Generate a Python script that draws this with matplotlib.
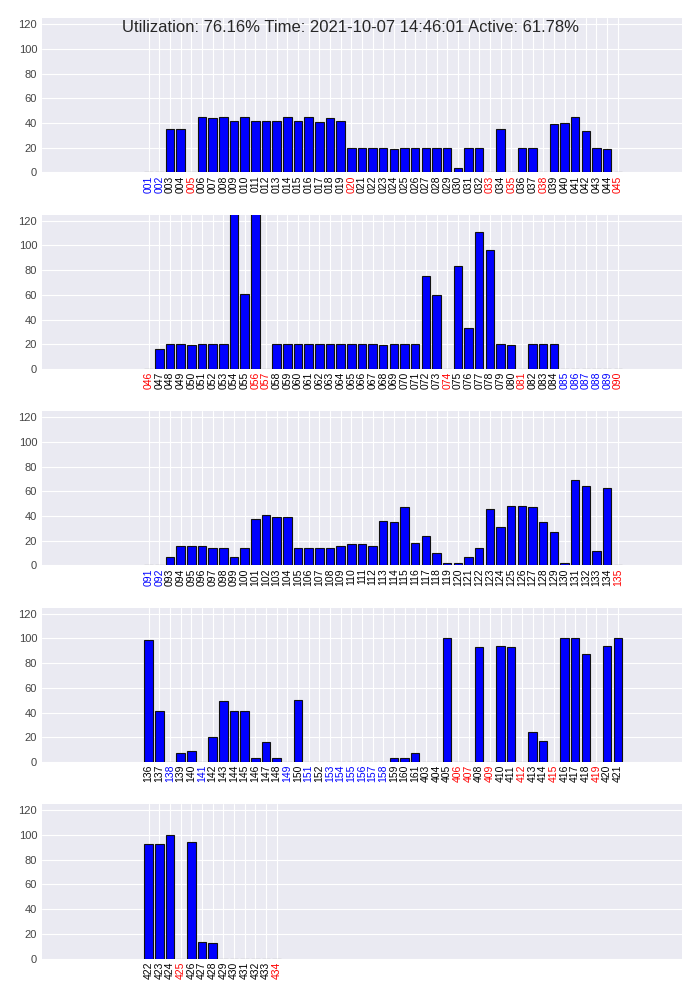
import matplotlib
matplotlib.use("Agg")
from matplotlib import pyplot as plt

titulo = "Utilization: 76.16% Time: 2021-10-07 14:46:01 Active: 61.78%"

# nomes dos nos por painel
nos1 = ["%03d" % i for i in range(1, 46)]
nos2 = ["%03d" % i for i in range(46, 91)]
nos3 = ["%03d" % i for i in range(91, 136)]
nos4 = ["%03d" % i for i in range(136, 162)] + ["%03d" % i for i in range(403, 422)]
nos5 = ["%03d" % i for i in range(422, 435)]

# utilizacao (%) de cada no
util1 = [0, 0, 35, 35, 0, 45, 44, 45, 41.5, 45, 41.5, 41.5, 41.5, 45, 41.5, 45, 40.5, 44, 41.5,
         20, 20, 20, 20, 19, 20, 20, 20, 20, 20, 3.5, 20, 20, 0, 35, 0, 20, 20, 0,
         39, 40, 45, 33.5, 20, 19, 0]
util2 = [0, 16.5, 20, 20, 19.5, 20, 20, 20, 140, 60.5, 140, 0, 20, 20, 20, 20, 20, 20, 20, 20,
         20, 20, 19.5, 20, 20, 20, 75.5, 59.5, 0, 83, 33, 110.5, 96.5, 20, 19.5, 0, 20, 20, 20,
         0, 0, 0, 0, 0, 0]
util3 = [0, 0, 6.5, 15.5, 15.5, 15.5, 14, 14, 6.5, 14, 38, 40.5, 39, 39, 14, 14, 14, 14, 15.5,
         17, 17, 15.5, 36, 35.5, 47, 18.5, 23.5, 10.5, 2, 2, 6.5, 14, 45.5, 31.5, 48, 48.5, 47,
         35.5, 27.5, 2, 69.5, 64, 11.5, 62.5, 0]
util4 = [99, 41.5, 0, 7, 8.5, 0, 20.5, 49, 41, 41.5, 3, 16.5, 3, 0, 50, 0, 0, 0, 0, 0, 0, 0, 0,
         3, 3, 7, 0, 0, 100, 0, 0, 93, 0, 93.5, 93, 0, 24, 17, 0, 100, 100, 87, 0, 93.5, 100]
util5 = [93, 92.5, 100, 0, 94, 13.5, 12.5, 0, 0, 0, 0, 0, 0]

# nos marcados a azul e a vermelho
nos_azuis = ["001", "002", "085", "086", "087", "088", "089", "091", "092", "138", "141", "149",
             "151", "153", "154", "155", "156", "157", "158"]
nos_vermelhos = ["005", "020", "033", "035", "038", "045", "046", "056", "057", "074", "081",
                 "090", "135", "406", "407", "409", "412", "415", "419", "425", "434"]

plt.style.use("seaborn-v0_8-darkgrid")
plt.rcParams["font.family"] = ["Liberation Sans", "DejaVu Sans"]

fig, axes = plt.subplots(5, 1, figsize=(7, 10), dpi=100)
fig.subplots_adjust(left=0.06, right=0.974, top=0.982, bottom=0.0415, hspace=0.272)

paineis = [(nos1, util1), (nos2, util2), (nos3, util3), (nos4, util4), (nos5, util5)]

for ax, (nos, util) in zip(axes, paineis):
    x = list(range(len(nos)))
    ax.bar(x, util, width=0.8, color="blue", edgecolor="#111111", linewidth=0.8, zorder=3)
    ax.set_xlim(-10, 50)
    ax.set_ylim(0, 125)
    ax.set_yticks([0, 20, 40, 60, 80, 100, 120])
    ax.set_xticks(x)
    ax.set_xticklabels(nos, rotation=90, fontsize=7.5)
    ax.tick_params(axis="y", labelsize=8, colors="#444444")
    ax.tick_params(axis="x", pad=2)
    for lab in ax.get_xticklabels():
        if lab.get_text() in nos_azuis:
            lab.set_color("blue")
        elif lab.get_text() in nos_vermelhos:
            lab.set_color("red")
        else:
            lab.set_color("black")

fig.suptitle(titulo, fontsize=12, color="#262626")

plt.savefig("out.png")
